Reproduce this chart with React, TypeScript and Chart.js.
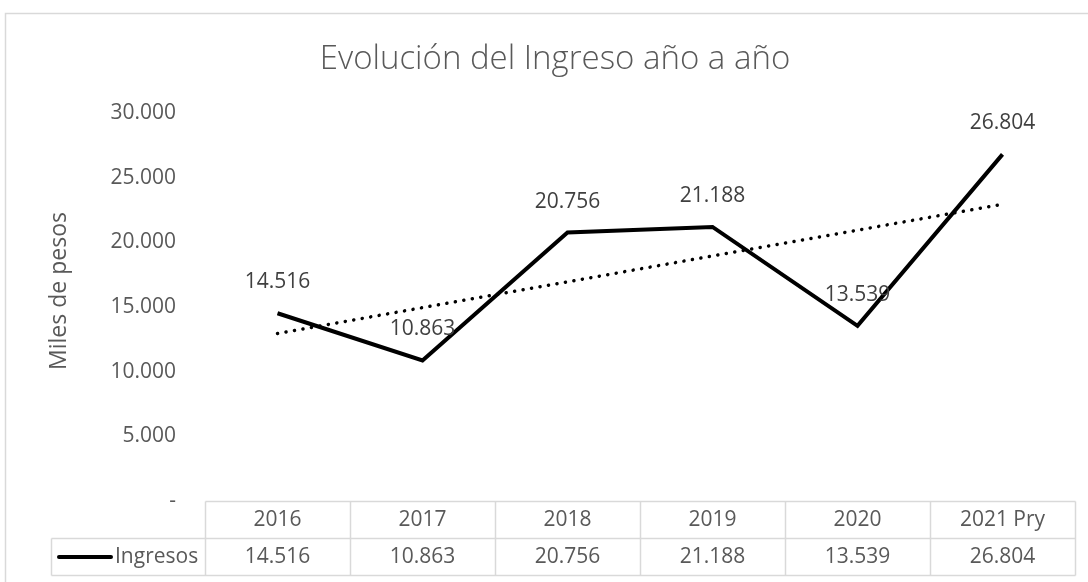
import React, { useEffect, useRef } from "react";
import { Chart, registerables } from "chart.js";

Chart.register(...registerables);

const categories: string[] = ["2016", "2017", "2018", "2019", "2020", "2021 Pry"];
const ingresos: number[] = [14516, 10863, 20756, 21188, 13539, 26804];
const seriesName = "Ingresos";
const chartTitle = "Evolución del Ingreso año a año";
const yAxisTitle = "Miles de pesos";
const yMin = 0;
const yMax = 30000;
const yStep = 5000;

const FONT = "'Open Sans', 'Noto Sans', sans-serif";
const TEXT = "#595959";
const LABEL = "#404040";
const BORDER = "#d9d9d9";

function fmt(n: number): string {
  if (n === 0) return "-";
  return String(Math.round(n)).replace(/\B(?=(\d{3})+(?!\d))/g, ".");
}

// Linear (least squares) trendline, as Excel computes it from the series
function linearTrend(values: number[]): number[] {
  const n = values.length;
  const xs = values.map((_, i) => i + 1);
  const mx = xs.reduce((a, b) => a + b, 0) / n;
  const my = values.reduce((a, b) => a + b, 0) / n;
  let sxy = 0;
  let sxx = 0;
  for (let i = 0; i < n; i++) {
    sxy += (xs[i] - mx) * (values[i] - my);
    sxx += (xs[i] - mx) * (xs[i] - mx);
  }
  const slope = sxy / sxx;
  return xs.map((x) => my + slope * (x - mx));
}

const extras = {
  id: "excelExtras",
  beforeDraw(chart: any) {
    const { ctx, width, height } = chart;
    ctx.save();
    ctx.fillStyle = "#ffffff";
    ctx.fillRect(0, 0, width, height);
    ctx.strokeStyle = BORDER;
    ctx.lineWidth = 1.5;
    ctx.strokeRect(5.5, 13.5, width + 20, height + 20);
    ctx.restore();
  },
  afterDraw(chart: any) {
    const { ctx, chartArea } = chart;
    const xScale = chart.scales.x;
    ctx.save();

    // Title
    ctx.fillStyle = TEXT;
    ctx.font = `300 33px ${FONT}`;
    ctx.textAlign = "center";
    ctx.textBaseline = "middle";
    ctx.fillText(chartTitle, 555, 60);

    // Y axis title
    ctx.save();
    ctx.translate(59, 291);
    ctx.rotate(-Math.PI / 2);
    ctx.font = `23px ${FONT}`;
    ctx.fillStyle = TEXT;
    ctx.fillText(yAxisTitle, 0, 0);
    ctx.restore();

    // Data labels
    const meta = chart.getDatasetMeta(0);
    ctx.font = `21px ${FONT}`;
    ctx.fillStyle = LABEL;
    meta.data.forEach((pt: any, i: number) => {
      ctx.fillText(fmt(ingresos[i]), pt.x, pt.y - 31);
    });

    // Data table
    const n = categories.length;
    const half = (xScale.getPixelForValue(1) - xScale.getPixelForValue(0)) / 2;
    const top = Math.round(chartArea.bottom) + 0.5;
    const rowH = 37;
    const left = Math.round(chartArea.left) + 0.5;
    const right = Math.round(chartArea.right) + 0.5;
    const legendLeft = 51.5;

    ctx.strokeStyle = BORDER;
    ctx.lineWidth = 1.5;
    ctx.beginPath();
    ctx.moveTo(left, top);
    ctx.lineTo(right, top);
    ctx.moveTo(legendLeft, top + rowH);
    ctx.lineTo(right, top + rowH);
    ctx.moveTo(legendLeft, top + 2 * rowH);
    ctx.lineTo(right, top + 2 * rowH);
    ctx.moveTo(legendLeft, top + rowH);
    ctx.lineTo(legendLeft, top + 2 * rowH);
    for (let i = 0; i <= n; i++) {
      const x = i === n ? right : Math.round(xScale.getPixelForValue(i) - half) + 0.5;
      ctx.moveTo(x, top);
      ctx.lineTo(x, top + 2 * rowH);
    }
    ctx.stroke();

    ctx.fillStyle = TEXT;
    ctx.font = `21px ${FONT}`;
    ctx.textAlign = "center";
    ctx.textBaseline = "middle";
    for (let i = 0; i < n; i++) {
      const cx = xScale.getPixelForValue(i);
      ctx.fillText(categories[i], cx, top + rowH / 2);
      ctx.fillText(fmt(ingresos[i]), cx, top + rowH * 1.5);
    }

    // Legend key in table
    const ly = top + rowH * 1.5;
    ctx.strokeStyle = "#000000";
    ctx.lineWidth = 4;
    ctx.lineCap = "round";
    ctx.beginPath();
    ctx.moveTo(59, ly);
    ctx.lineTo(111, ly);
    ctx.stroke();
    ctx.textAlign = "left";
    ctx.fillText(seriesName, 115, ly);

    ctx.restore();
  },
};

export default function App() {
  const ref = useRef<HTMLCanvasElement | null>(null);

  useEffect(() => {
    if (!ref.current) return;
    const trend = linearTrend(ingresos);
    const chart = new Chart(ref.current, {
      type: "line",
      data: {
        labels: categories,
        datasets: [
          {
            label: seriesName,
            data: ingresos,
            borderColor: "#000000",
            borderWidth: 4,
            pointRadius: 0,
            tension: 0,
            fill: false,
          },
          {
            label: "Lineal (Ingresos)",
            data: trend,
            borderColor: "#000000",
            borderWidth: 3.5,
            borderDash: [0.1, 8.5],
            borderCapStyle: "round",
            pointRadius: 0,
            tension: 0,
            fill: false,
          },
        ],
      },
      options: {
        responsive: false,
        animation: false,
        devicePixelRatio: 1,
        layout: { padding: { left: 20, right: 13, top: 113, bottom: 81 } },
        plugins: {
          legend: { display: false },
          title: { display: false },
          tooltip: { enabled: false },
        },
        scales: {
          x: {
            display: false,
            offset: true,
          },
          y: {
            min: yMin,
            max: yMax,
            ticks: {
              stepSize: yStep,
              padding: 29,
              color: TEXT,
              font: { family: FONT, size: 21 },
              callback: (v: any) => fmt(Number(v)),
            },
            grid: { display: false, drawTicks: false },
            border: { display: false },
            title: { display: false },
            afterFit: (axis: any) => {
              axis.width = 185;
            },
          },
        },
      },
      plugins: [extras],
    });
    return () => chart.destroy();
  }, []);

  return (
    <div style={{ position: "fixed", left: 0, top: 0, width: 1088, height: 582 }}>
      <canvas ref={ref} width={1088} height={582} style={{ display: "block" }} />
    </div>
  );
}
